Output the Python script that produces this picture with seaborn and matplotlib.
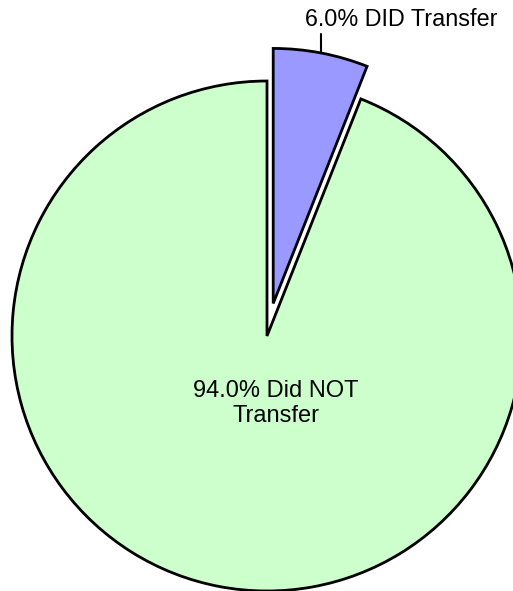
import numpy as np
import matplotlib
matplotlib.use("Agg")
import matplotlib.pyplot as plt
import seaborn as sns

categories = ["DID Transfer", "Did NOT Transfer"]
values = [6.0, 94.0]
label_texts = ["6.0% DID Transfer", "94.0% Did NOT\nTransfer"]
colors = ["#9999FF", "#CCFFCC"]

sns.set_theme(style="white")
plt.rcParams['font.family'] = ['Liberation Sans', 'DejaVu Sans']

W, H = 513, 591
fig = plt.figure(figsize=(W / 100, H / 100), dpi=100)
ax = fig.add_axes([0, 0, 1, 1])
ax.set_axis_off()

wedges, _ = ax.pie(values, startangle=90, counterclock=False,
                   explode=[0.13, 0], colors=sns.color_palette(colors),
                   radius=1.0,
                   wedgeprops=dict(edgecolor="black", linewidth=2.0))

cx, cy, r = 267, 336, 255
ax.set_xlim(-cx / r, (W - cx) / r)
ax.set_ylim(-(H - cy) / r, cy / r)
ax.set_aspect('auto')

# leader for small slice
w = wedges[0]
ang = np.deg2rad((w.theta1 + w.theta2) / 2)
px = w.center[0] + w.r * np.cos(ang)
py = w.center[1] + w.r * np.sin(ang)
ax.plot([px, px], [py, py + 0.075], color="black", lw=1.5, clip_on=False)
ax.text(0.525, 1.242, label_texts[0], ha="center", va="center", fontsize=16.8, color="black")

ax.text(0.035, -0.265, label_texts[1], ha="center", va="center", fontsize=17,
        color="black", linespacing=1.2)

fig.savefig("out.png", dpi=100)
